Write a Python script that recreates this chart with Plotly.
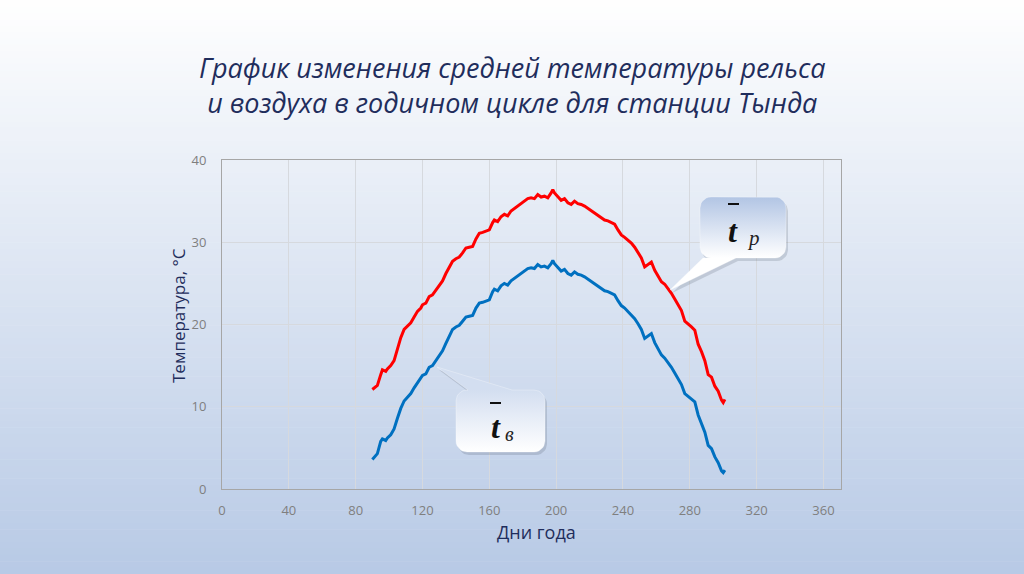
import numpy as np
import plotly.graph_objects as go

# ---------------- data ----------------
days = [90, 91, 93, 95, 96, 98, 99, 101, 103, 105, 107, 109, 111, 113, 115, 117, 119, 120,
        122, 124, 126, 128, 130, 132, 134, 136, 138, 140, 142, 144, 146, 148, 150, 152, 154,
        156, 158, 160, 162, 163, 165, 167, 169, 171, 173, 175, 177, 179, 181, 183, 185, 187,
        189, 191, 193, 195, 197, 198, 199, 201, 203, 205, 207, 209, 211, 213, 215, 217, 219,
        221, 223, 225, 227, 229, 231, 233, 235, 237, 239, 241, 243, 245, 247, 249, 251, 253,
        255, 257, 259, 261, 263, 265, 267, 269, 271, 273, 275, 277, 279, 281, 283, 285, 287,
        289, 291, 293, 295, 297, 299, 300, 301]

t_rail = [12.1, 12.3, 12.6, 13.9, 14.5, 14.3, 14.6, 15.0, 15.6, 17.0, 18.4, 19.4, 19.8, 20.2,
          20.9, 21.6, 22.0, 22.4, 22.6, 23.4, 23.6, 24.2, 24.8, 25.3, 26.2, 27.0, 27.7, 28.0,
          28.2, 28.7, 29.3, 29.4, 29.5, 30.4, 31.1, 31.2, 31.4, 31.5, 32.4, 32.7, 32.5, 33.1,
          33.4, 33.2, 33.8, 34.1, 34.3, 34.6, 34.9, 35.3, 35.4, 35.3, 35.8, 35.5, 35.6, 35.4,
          36.0, 36.4, 36.0, 35.6, 35.1, 35.3, 34.8, 34.6, 35.0, 34.7, 34.6, 34.4, 34.1, 33.9,
          33.6, 33.2, 32.9, 32.7, 32.6, 32.4, 32.2, 31.5, 30.9, 30.6, 30.3, 29.9, 29.4, 28.8,
          28.1, 27.0, 27.3, 27.6, 26.6, 25.9, 25.2, 24.9, 24.4, 23.8, 23.1, 22.4, 21.7, 20.4,
          20.1, 19.7, 19.3, 17.6, 16.7, 15.6, 13.9, 13.6, 12.5, 11.9, 10.8, 10.5, 10.9]

t_air = [3.6, 3.8, 4.3, 5.8, 6.1, 5.9, 6.2, 6.6, 7.3, 8.6, 9.8, 10.7, 11.2, 11.6, 12.3, 12.9,
         13.5, 13.8, 14.0, 14.8, 15.0, 15.6, 16.2, 16.8, 17.7, 18.6, 19.4, 19.7, 19.9, 20.4,
         20.9, 21.0, 21.1, 22.0, 22.6, 22.7, 22.9, 23.0, 24.0, 24.3, 24.1, 24.7, 25.0, 24.8,
         25.3, 25.6, 25.8, 26.1, 26.4, 26.8, 26.9, 26.8, 27.3, 27.0, 27.1, 26.9, 27.4, 27.8,
         27.4, 27.0, 26.5, 26.7, 26.2, 26.0, 26.4, 26.1, 26.0, 25.8, 25.5, 25.3, 25.0, 24.6,
         24.3, 24.1, 24.0, 23.8, 23.6, 22.9, 22.3, 22.0, 21.6, 21.2, 20.7, 20.1, 19.4, 18.3,
         18.6, 18.9, 17.8, 17.1, 16.3, 15.9, 15.4, 14.8, 14.1, 13.4, 12.7, 11.6, 11.3, 11.0,
         10.6, 9.0, 7.9, 6.9, 5.3, 4.9, 3.9, 3.2, 2.2, 2.0, 2.3]

x_ticks = [0, 40, 80, 120, 160, 200, 240, 280, 320, 360]
y_ticks = [0, 10, 20, 30, 40]

title_text = "График изменения средней температуры рельса<br>и воздуха в годичном цикле для станции Тында"
x_title = "Дни года"
y_title = "Температура, °C"

# ---------------- layout geometry (pixels) ----------------
W, H = 1024, 574
L, R, T, B = 222, 841, 160, 489
PW, PH = R - L, B - T


def px(xp):
    return (xp - L) / PW


def py(yp):
    return (B - yp) / PH


FONT = "Open Sans, Noto Sans, DejaVu Sans, sans-serif"
NAVY = "#1f2d5c"

fig = go.Figure()

fig.add_trace(go.Scatter(x=days, y=t_rail, mode="lines", line=dict(color="#ff0000", width=3),
                         showlegend=False, hoverinfo="skip"))
fig.add_trace(go.Scatter(x=days, y=t_air, mode="lines", line=dict(color="#0070c0", width=3),
                         showlegend=False, hoverinfo="skip"))


# ---------------- callouts (pixel space on overlay axes) ----------------
def callout(x0, y0, x1, y1, r, side, b0, b1, tip):
    pts = []

    def arc(cx, cy, a0, a1):
        for a in np.linspace(np.radians(a0), np.radians(a1), 8):
            pts.append((cx + r * np.cos(a), cy + r * np.sin(a)))

    pts.append((x0 + r, y0))
    if side == "top":
        pts += [(b0, y0), tip, (b1, y0)]
    arc(x1 - r, y0 + r, -90, 0)
    arc(x1 - r, y1 - r, 0, 90)
    if side == "bottom":
        pts += [(b1, y1), tip, (b0, y1)]
    arc(x0 + r, y1 - r, 90, 180)
    arc(x0 + r, y0 + r, 180, 270)
    xs = [p[0] for p in pts] + [pts[0][0]]
    ys = [B - p[1] for p in pts] + [B - pts[0][1]]
    return xs, ys


def add_callout(box, top_color):
    x0, y0, x1, y1, r, side, b0, b1, tip = box
    xs, ys = callout(*box)
    fig.add_trace(go.Scatter(x=[v + 2 for v in xs], y=[v - 3 for v in ys], fill="toself",
                             mode="lines", line=dict(color="rgba(0,0,0,0)", width=0),
                             fillcolor="rgba(60,70,90,0.18)", xaxis="x2", yaxis="y2",
                             showlegend=False, hoverinfo="skip"))
    fig.add_trace(go.Scatter(x=xs, y=ys, fill="toself", mode="lines",
                             line=dict(color="rgba(255,255,255,0.6)", width=0.5),
                             fillgradient=dict(type="vertical", start=B - y1, stop=B - y0,
                                               colorscale=[[0, "#ffffff"], [1, top_color]]),
                             xaxis="x2", yaxis="y2", showlegend=False, hoverinfo="skip"))


add_callout((700, 197, 786, 258, 11, "bottom", 703, 736, (670, 290)), "#b2c5e4")
add_callout((456, 390, 545, 452, 11, "top", 468, 512, (437, 367)), "#d3def0")

# ---------------- background gradient ----------------
shapes = []
N = 90
c_top = np.array([255, 255, 255])
c_bot = np.array([184, 202, 230])
for i in range(N):
    y0p = H * i / N
    y1p = H * (i + 1) / N
    f = (i + 0.5) / N
    c = (c_top + (c_bot - c_top) * f).astype(int)
    shapes.append(dict(type="rect", xref="paper", yref="paper", layer="below",
                       x0=px(0), x1=px(W), y0=py(y1p + 0.5), y1=py(y0p),
                       fillcolor="rgb(%d,%d,%d)" % tuple(c), line=dict(width=0)))

annotations = [
    dict(text=title_text, x=px(512), y=py(85), xref="paper", yref="paper", showarrow=False,
         xanchor="center", yanchor="middle",
         font=dict(family=FONT, size=27, color=NAVY, style="italic")),
    dict(text=x_title, x=px(536), y=py(532), xref="paper", yref="paper", showarrow=False,
         xanchor="center", yanchor="middle", font=dict(family=FONT, size=18, color=NAVY)),
    dict(text=y_title, x=px(178), y=py(316), xref="paper", yref="paper", showarrow=False,
         textangle=-90, xanchor="center", yanchor="middle",
         font=dict(family=FONT, size=17, color=NAVY)),
    dict(text="<b><i>t</i></b>", x=733, y=B - 231, xref="x2", yref="y2", showarrow=False,
         font=dict(family="Liberation Serif, serif", size=32, color="#111111")),
    dict(text="<i>p</i>", x=753, y=B - 238, xref="x2", yref="y2", showarrow=False,
         font=dict(family="Liberation Serif, serif", size=21, color="#222222")),
    dict(text="<b><i>t</i></b>", x=496, y=B - 427, xref="x2", yref="y2", showarrow=False,
         font=dict(family="Liberation Serif, serif", size=32, color="#111111")),
    dict(text="<i>в</i>", x=509, y=B - 434, xref="x2", yref="y2", showarrow=False,
         font=dict(family="Liberation Serif, serif", size=20, color="#222222")),
]

shapes.append(dict(type="line", xref="x2", yref="y2", x0=728, x1=739, y0=B - 204, y1=B - 204,
                   line=dict(color="#111111", width=2)))
shapes.append(dict(type="line", xref="x2", yref="y2", x0=490, x1=501, y0=B - 403, y1=B - 403,
                   line=dict(color="#111111", width=2)))

fig.update_layout(
    width=W, height=H,
    margin=dict(l=L, r=W - R, t=T, b=H - B, pad=0),
    paper_bgcolor="#ffffff",
    plot_bgcolor="rgba(0,0,0,0)",
    showlegend=False,
    shapes=shapes,
    annotations=annotations,
    xaxis=dict(range=[0, 370.5], tickvals=x_ticks, showgrid=True, gridcolor="#d6d9de",
               gridwidth=1, showline=True, linecolor="#a6a6a6", linewidth=1, mirror=True,
               zeroline=False, ticks="outside", ticklen=9, tickcolor="rgba(0,0,0,0)",
               tickfont=dict(family=FONT, size=13, color="#7f7f7f")),
    yaxis=dict(range=[0, 40], tickvals=y_ticks, showgrid=True, gridcolor="#d6d9de",
               gridwidth=1, showline=True, linecolor="#a6a6a6", linewidth=1, mirror=True,
               zeroline=False, ticks="outside", ticklen=12, tickcolor="rgba(0,0,0,0)",
               tickfont=dict(family=FONT, size=13, color="#7f7f7f")),
    xaxis2=dict(range=[L, R], overlaying="x", visible=False, fixedrange=True),
    yaxis2=dict(range=[0, PH], overlaying="y", visible=False, fixedrange=True),
)

fig.write_html("out.html", config={"displayModeBar": False},
               post_script="document.body.style.margin='0';document.body.style.overflow='hidden';")
